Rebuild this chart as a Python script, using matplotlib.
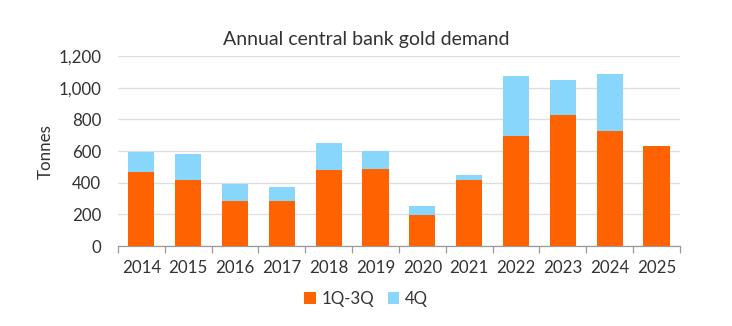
import matplotlib
matplotlib.use("Agg")
import matplotlib.pyplot as plt
import numpy as np

years = ["2014", "2015", "2016", "2017", "2018", "2019", "2020", "2021", "2022", "2023", "2024", "2025"]
q1_q3 = [466, 416, 285, 285, 479, 485, 194, 418, 696, 831, 724, 633]
q4 = [131, 164, 107, 90, 175, 118, 61, 31, 380, 218, 365, 0]

plt.rcParams['font.family'] = ['Lato', 'DejaVu Sans']
txt = '#333333'

fig = plt.figure(figsize=(7.32, 3.26), dpi=100)
ax = fig.add_axes([0.161, 0.245, 0.768, 0.583])

x = np.arange(len(years))
w = 0.56
ax.bar(x, q1_q3, w, color='#FF6200', label='1Q-3Q', zorder=3)
ax.bar(x, q4, w, bottom=q1_q3, color='#89D6FD', label='4Q', zorder=3)

ax.set_xlim(-0.5, len(years) - 0.5)
ax.set_ylim(0, 1200)
ax.set_yticks(range(0, 1201, 200))
ax.set_yticklabels([f"{v:,}" for v in range(0, 1201, 200)], color=txt, fontsize=12.2)
ax.yaxis.grid(True, color='#dddddd', linewidth=0.9, zorder=0)
ax.set_axisbelow(True)

ax.set_xticks(x)
ax.set_xticklabels(years, color=txt, fontsize=12.2)
ax.set_xticks(np.arange(-0.5, len(years), 1), minor=True)
ax.tick_params(axis='x', which='major', length=0, pad=10)
ax.tick_params(axis='x', which='minor', length=5, color='#999999', width=0.9)
ax.tick_params(axis='y', length=0, pad=12)

for s in ['top', 'right', 'left']:
    ax.spines[s].set_visible(False)
ax.spines['bottom'].set_color('#999999')
ax.spines['bottom'].set_linewidth(0.9)

ax.set_ylabel('Tonnes', color=txt, fontsize=12.2, labelpad=3)
fig.text(0.501, 0.878, 'Annual central bank gold demand', ha='center', va='center', color=txt, fontsize=14)

fig.legend(loc='center', bbox_to_anchor=(0.5, 0.082), ncol=2, frameon=False,
           fontsize=12.2, handlelength=0.7, handleheight=0.7, handletextpad=0.3,
           columnspacing=0.8, labelcolor=txt)

fig.savefig('out.png', dpi=100)
